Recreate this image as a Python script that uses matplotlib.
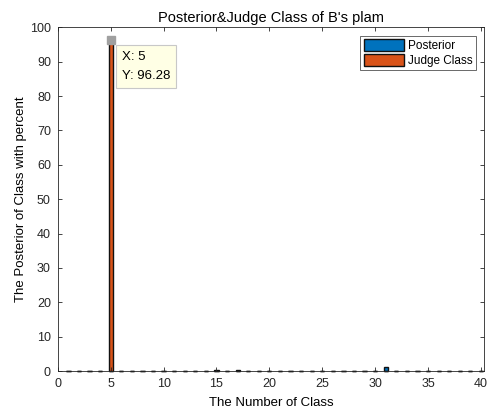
import numpy as np
import matplotlib
matplotlib.use("Agg")
import matplotlib.pyplot as plt

plt.rcParams['font.family'] = ['Liberation Sans', 'DejaVu Sans']

# class indices 1..40
classes = np.arange(1, 41)
posterior = np.zeros(40)
posterior[6] = 0.1    # class 7
posterior[14] = 0.3   # class 15
posterior[16] = 0.3   # class 17
posterior[30] = 1.3   # class 31
judge = np.zeros(40)
judge[4] = 96.28      # class 5

tip_x, tip_y = 5, 96.28

fig = plt.figure(figsize=(4.9, 4.15), dpi=100)
ax = fig.add_axes([0.118, 0.106, 0.870, 0.828])

ax.bar(classes, posterior, width=0.4, color='#0072BD', edgecolor='#111111',
       linewidth=1.0, label='Posterior', clip_on=False)
ax.bar(classes, judge, width=0.4, color='#D95319', edgecolor='#111111',
       linewidth=1.0, label='Judge Class', clip_on=False)

ax.set_xlim(0, 40.3)
ax.set_ylim(0, 100)
ax.set_xticks(np.arange(0, 41, 5))
ax.set_yticks(np.arange(0, 101, 10))
ax.tick_params(direction='in', top=True, right=True, labelsize=9,
               length=3, width=0.6, colors='#262626', pad=5)
for s in ax.spines.values():
    s.set_linewidth(0.6)
    s.set_color('#262626')

ax.set_title("Posterior&Judge Class of B's plam", fontsize=10.5, pad=4)
ax.set_xlabel('The Number of Class', fontsize=9.5, labelpad=5)
ax.set_ylabel('The Posterior of Class with percent', fontsize=9.5, labelpad=2)

leg = ax.legend(loc='upper right', fontsize=8.5, fancybox=False,
                edgecolor='#262626', handlelength=3.4, handleheight=1.15,
                borderaxespad=0.7, labelspacing=0.15, handletextpad=0.3,
                borderpad=0.3)
leg.get_frame().set_linewidth(0.6)

# data tip
ax.plot([tip_x], [tip_y], 's', color='#a0a0a0', markersize=6, zorder=5, clip_on=False)
ax.annotate(f"X: {tip_x}\nY: {tip_y:.2f}", xy=(tip_x, tip_y),
            xytext=(8, -8), textcoords='offset points', va='top', ha='left',
            fontsize=9.5, linespacing=1.75,
            bbox=dict(boxstyle='square,pad=0.45', fc='#ffffe5', ec='#c8c8c8', lw=0.8))

fig.savefig('out.png', dpi=100)
